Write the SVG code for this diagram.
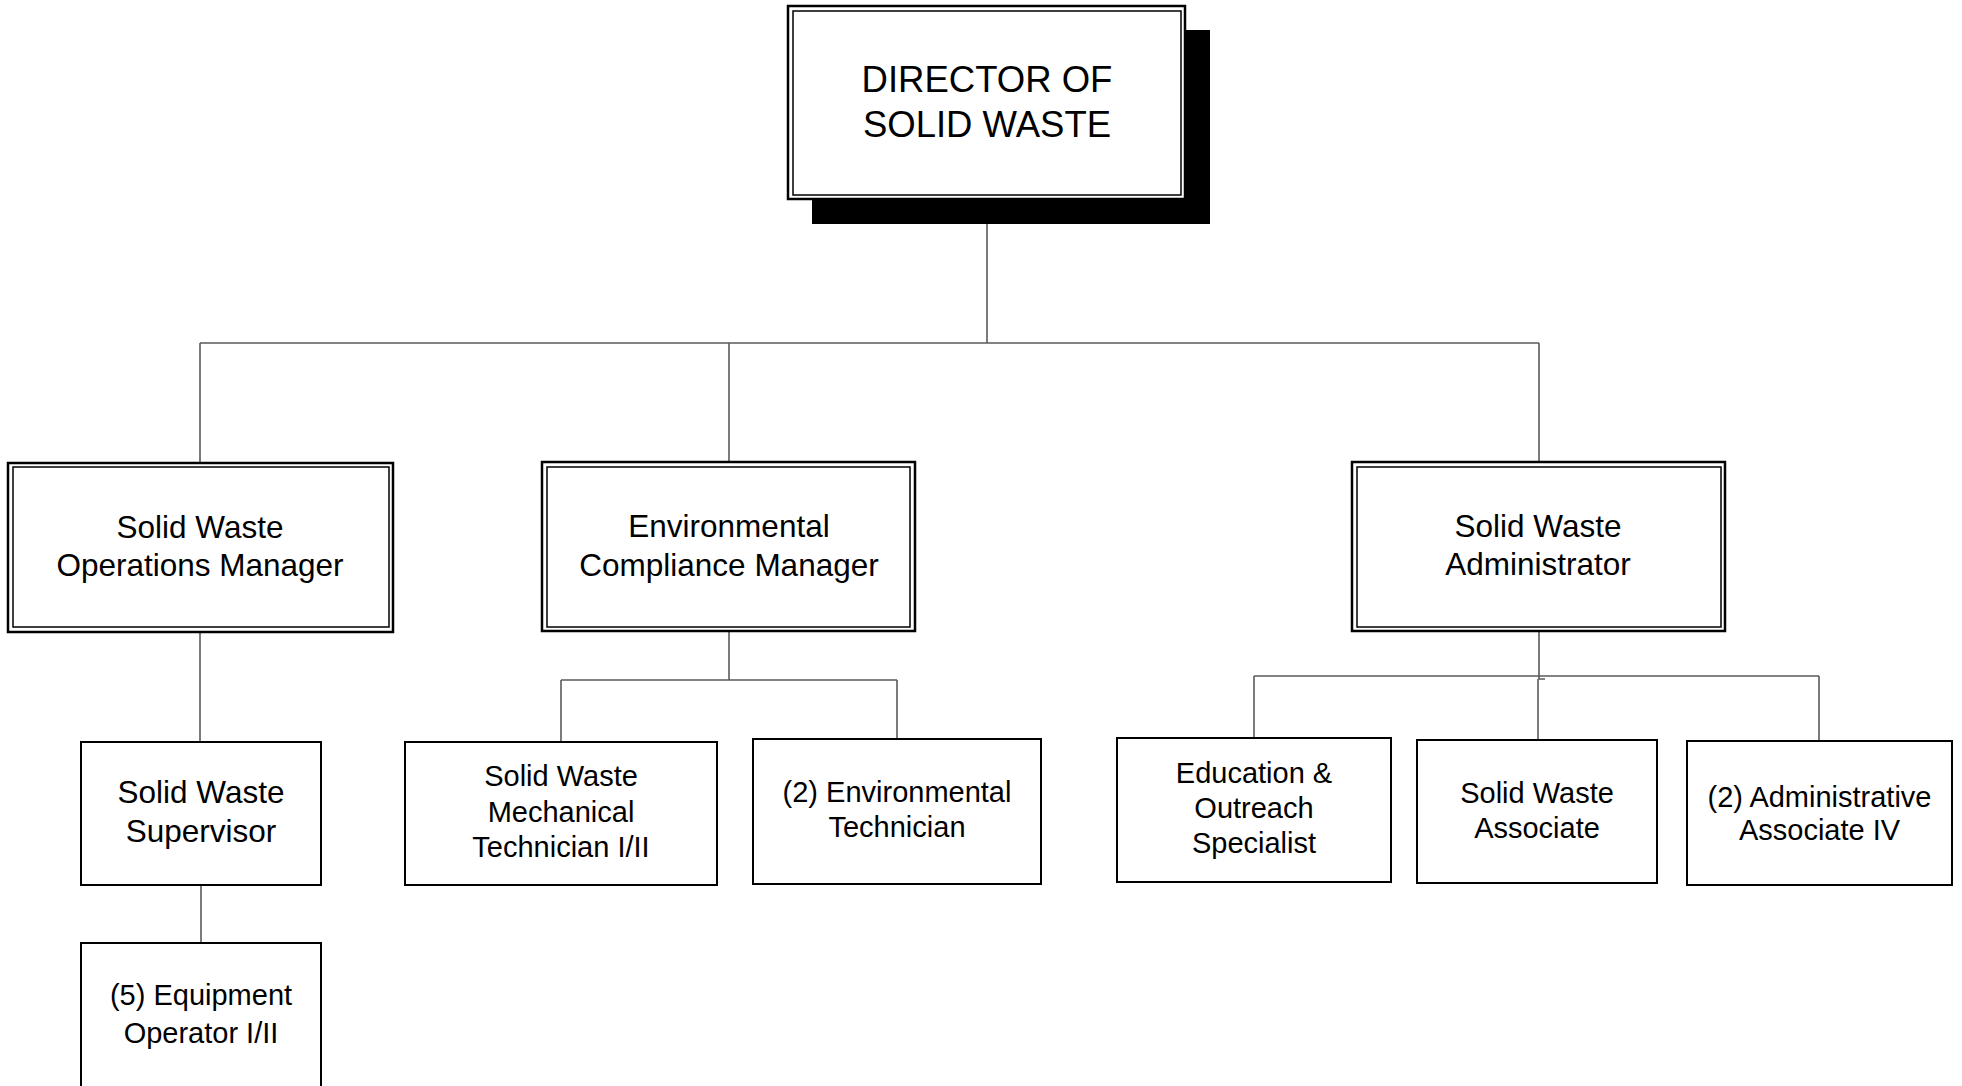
<svg xmlns="http://www.w3.org/2000/svg" width="1962" height="1086" viewBox="0 0 1962 1086">
<style>
.bg{fill:#ffffff}
.box{fill:#ffffff;stroke:#000000;stroke-width:2}
.outer{fill:#ffffff;stroke:#000000;stroke-width:2.5}
.inner{fill:none;stroke:#000000;stroke-width:1.5}
.shadow{fill:#000000}
.conn{fill:none;stroke:#5a5a5a;stroke-width:1.6}
text{font-family:"Liberation Sans",Arial,sans-serif;fill:#000000;text-anchor:middle}
.t36{font-size:36.5px}
.t31{font-size:31.5px}
.t29{font-size:29px}
</style>
<rect class="bg" x="0" y="0" width="1962" height="1086"/>
<g id="connectors">
<path class="conn" d="M987,224 V343"/>
<path class="conn" d="M200,343 H1539"/>
<path class="conn" d="M200,343 V463"/>
<path class="conn" d="M729,343 V462"/>
<path class="conn" d="M1539,343 V462"/>
<path class="conn" d="M200,632 V742"/>
<path class="conn" d="M201,885 V943"/>
<path class="conn" d="M729,631 V680"/>
<path class="conn" d="M561,680 H897"/>
<path class="conn" d="M561,680 V742"/>
<path class="conn" d="M897,680 V739"/>
<path class="conn" d="M1539,631 V679 H1545"/>
<path class="conn" d="M1254,676 H1819"/>
<path class="conn" d="M1254,676 V738"/>
<path class="conn" d="M1819,676 V741"/>
<path class="conn" d="M1538,679 V740"/>
</g>
<g id="director">
<rect class="shadow" x="812" y="30" width="398" height="194"/>
<rect class="outer" x="788" y="6" width="397" height="193"/>
<rect class="inner" x="793" y="11" width="388" height="184"/>
<text class="t36" x="987" y="92">DIRECTOR OF</text>
<text class="t36" x="987" y="137">SOLID WASTE</text>
</g>
<g id="ops-manager">
<rect class="outer" x="8" y="463" width="385" height="169"/>
<rect class="inner" x="13" y="467" width="376" height="160"/>
<text class="t31" x="200" y="538">Solid Waste</text>
<text class="t31" x="200" y="576">Operations Manager</text>
</g>
<g id="env-manager">
<rect class="outer" x="542" y="462" width="373" height="169"/>
<rect class="inner" x="547" y="467" width="363" height="160"/>
<text class="t31" x="729" y="537">Environmental</text>
<text class="t31" x="729" y="576">Compliance Manager</text>
</g>
<g id="administrator">
<rect class="outer" x="1352" y="462" width="373" height="169"/>
<rect class="inner" x="1357" y="467" width="364" height="160"/>
<text class="t31" x="1538" y="537">Solid Waste</text>
<text class="t31" x="1538" y="575">Administrator</text>
</g>
<g id="supervisor">
<rect class="box" x="81" y="742" width="240" height="143"/>
<text class="t31" x="201" y="803">Solid Waste</text>
<text class="t31" x="201" y="842">Supervisor</text>
</g>
<g id="equipment-operator">
<rect class="box" x="81" y="943" width="240" height="160"/>
<text class="t29" x="201" y="1005">(5) Equipment</text>
<text class="t29" x="201" y="1043">Operator I/II</text>
</g>
<g id="mechanical-technician">
<rect class="box" x="405" y="742" width="312" height="143"/>
<text class="t29" x="561" y="786">Solid Waste</text>
<text class="t29" x="561" y="822">Mechanical</text>
<text class="t29" x="561" y="857">Technician I/II</text>
</g>
<g id="env-technician">
<rect class="box" x="753" y="739" width="288" height="145"/>
<text class="t29" x="897" y="802">(2) Environmental</text>
<text class="t29" x="897" y="837">Technician</text>
</g>
<g id="education">
<rect class="box" x="1117" y="738" width="274" height="144"/>
<text class="t29" x="1254" y="783">Education &amp;</text>
<text class="t29" x="1254" y="818">Outreach</text>
<text class="t29" x="1254" y="853">Specialist</text>
</g>
<g id="sw-associate">
<rect class="box" x="1417" y="740" width="240" height="143"/>
<text class="t29" x="1537" y="803">Solid Waste</text>
<text class="t29" x="1537" y="838">Associate</text>
</g>
<g id="admin-associate">
<rect class="box" x="1687" y="741" width="265" height="144"/>
<text class="t29" x="1819.5" y="807">(2) Administrative</text>
<text class="t29" x="1819.5" y="840">Associate IV</text>
</g>
</svg>
